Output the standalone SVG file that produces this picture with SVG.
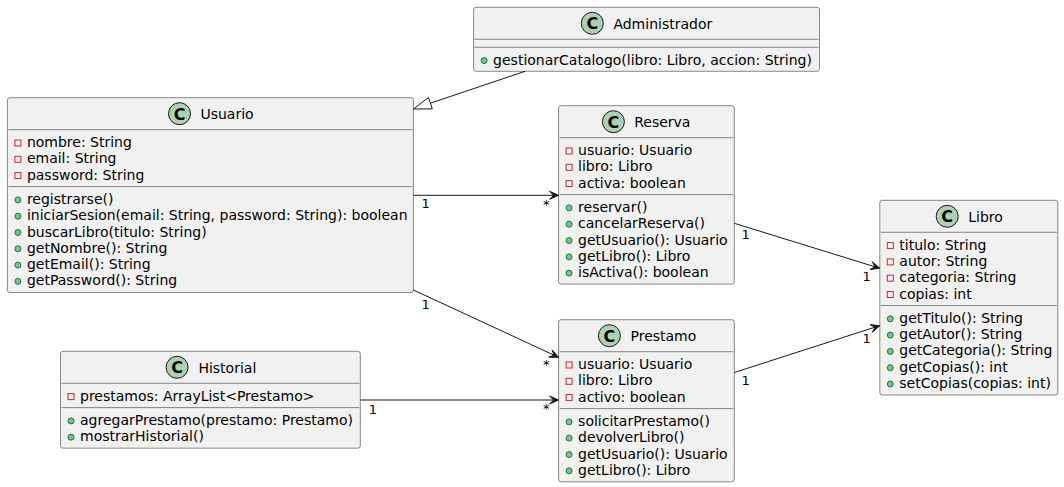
<svg xmlns="http://www.w3.org/2000/svg" width="1064" height="487" viewBox="0 0 1064 487">
<defs>
<style>
.box{fill:#F1F1F1;stroke:#181818;stroke-width:0.5}
.sep{stroke:#181818;stroke-width:0.5}
.ci{fill:#ADD1B2;stroke:#181818;stroke-width:1}
.cl{font-family:"DejaVu Sans",sans-serif;font-size:16px;font-weight:bold;fill:#000;text-anchor:middle}
.nm{font-family:"DejaVu Sans",sans-serif;font-size:14px;fill:#000}
.t{font-family:"DejaVu Sans",sans-serif;font-size:14px;fill:#000}
.pv{fill:none;stroke:#C82930;stroke-width:1}
.pb{fill:#84BE84;stroke:#038048;stroke-width:1}
.ln{stroke:#181818;stroke-width:1;fill:none}
.ah{fill:#181818;stroke:#181818;stroke-width:1}
.lb{font-family:"DejaVu Sans",sans-serif;font-size:13px;fill:#000}
</style>
</defs>
<rect width="1064" height="487" fill="#FFFFFF"/>

<g id="Administrador">
<rect class="box" x="473.6" y="7.3" width="345.9" height="64" rx="2.5" ry="2.5"/>
<circle class="ci" cx="592.3" cy="23.3" r="11"/>
<text class="cl" x="592.3" y="29.1">C</text>
<text class="nm" x="613.4" y="28.6">Administrador</text>
<line class="sep" x1="474.6" y1="39.3" x2="818.5" y2="39.3"/>
<line class="sep" x1="474.6" y1="47.3" x2="818.5" y2="47.3"/>
<circle class="pb" cx="484.1" cy="60.6" r="3"/>
<text class="t" x="493.1" y="64.6">gestionarCatalogo(libro: Libro, accion: String)</text>
</g>

<g id="Usuario">
<rect class="box" x="7.4" y="97.7" width="406" height="194.8" rx="2.5" ry="2.5"/>
<circle class="ci" cx="179.5" cy="113.7" r="11"/>
<text class="cl" x="179.5" y="119.5">C</text>
<text class="nm" x="200.4" y="119">Usuario</text>
<line class="sep" x1="8.4" y1="129.7" x2="412.4" y2="129.7"/>
<rect class="pv" x="14.9" y="140" width="6" height="6"/>
<text class="t" x="26.9" y="147">nombre: String</text>
<rect class="pv" x="14.9" y="156.3" width="6" height="6"/>
<text class="t" x="26.9" y="163.3">email: String</text>
<rect class="pv" x="14.9" y="172.6" width="6" height="6"/>
<text class="t" x="26.9" y="179.6">password: String</text>
<line class="sep" x1="8.4" y1="186.6" x2="412.4" y2="186.6"/>
<circle class="pb" cx="17.9" cy="199.9" r="3"/>
<text class="t" x="26.9" y="203.9">registrarse()</text>
<circle class="pb" cx="17.9" cy="216.2" r="3"/>
<text class="t" x="26.9" y="220.2">iniciarSesion(email: String, password: String): boolean</text>
<circle class="pb" cx="17.9" cy="232.5" r="3"/>
<text class="t" x="26.9" y="236.5">buscarLibro(titulo: String)</text>
<circle class="pb" cx="17.9" cy="248.8" r="3"/>
<text class="t" x="26.9" y="252.8">getNombre(): String</text>
<circle class="pb" cx="17.9" cy="265.1" r="3"/>
<text class="t" x="26.9" y="269.1">getEmail(): String</text>
<circle class="pb" cx="17.9" cy="281.4" r="3"/>
<text class="t" x="26.9" y="285.4">getPassword(): String</text>
</g>

<g id="Reserva">
<rect class="box" x="558.6" y="105.7" width="175.7" height="178.4" rx="2.5" ry="2.5"/>
<circle class="ci" cx="613.4" cy="121.7" r="11"/>
<text class="cl" x="613.4" y="127.5">C</text>
<text class="nm" x="634.2" y="127">Reserva</text>
<line class="sep" x1="559.6" y1="137.7" x2="733.3" y2="137.7"/>
<rect class="pv" x="566.1" y="148" width="6" height="6"/>
<text class="t" x="578.1" y="155">usuario: Usuario</text>
<rect class="pv" x="566.1" y="164.3" width="6" height="6"/>
<text class="t" x="578.1" y="171.3">libro: Libro</text>
<rect class="pv" x="566.1" y="180.6" width="6" height="6"/>
<text class="t" x="578.1" y="187.6">activa: boolean</text>
<line class="sep" x1="559.6" y1="194.6" x2="733.3" y2="194.6"/>
<circle class="pb" cx="569.1" cy="207.9" r="3"/>
<text class="t" x="578.1" y="211.9">reservar()</text>
<circle class="pb" cx="569.1" cy="224.2" r="3"/>
<text class="t" x="578.1" y="228.2">cancelarReserva()</text>
<circle class="pb" cx="569.1" cy="240.5" r="3"/>
<text class="t" x="578.1" y="244.5">getUsuario(): Usuario</text>
<circle class="pb" cx="569.1" cy="256.8" r="3"/>
<text class="t" x="578.1" y="260.8">getLibro(): Libro</text>
<circle class="pb" cx="569.1" cy="273.1" r="3"/>
<text class="t" x="578.1" y="277.1">isActiva(): boolean</text>
</g>

<g id="Libro">
<rect class="box" x="879.8" y="200.3" width="178" height="194.7" rx="2.5" ry="2.5"/>
<circle class="ci" cx="947.2" cy="216.3" r="11"/>
<text class="cl" x="947.2" y="222.1">C</text>
<text class="nm" x="968.3" y="221.6">Libro</text>
<line class="sep" x1="880.8" y1="232.3" x2="1056.8" y2="232.3"/>
<rect class="pv" x="887.3" y="242.6" width="6" height="6"/>
<text class="t" x="899.3" y="249.6">titulo: String</text>
<rect class="pv" x="887.3" y="258.9" width="6" height="6"/>
<text class="t" x="899.3" y="265.9">autor: String</text>
<rect class="pv" x="887.3" y="275.2" width="6" height="6"/>
<text class="t" x="899.3" y="282.2">categoria: String</text>
<rect class="pv" x="887.3" y="291.5" width="6" height="6"/>
<text class="t" x="899.3" y="298.5">copias: int</text>
<line class="sep" x1="880.8" y1="305.5" x2="1056.8" y2="305.5"/>
<circle class="pb" cx="890.3" cy="318.8" r="3"/>
<text class="t" x="899.3" y="322.8">getTitulo(): String</text>
<circle class="pb" cx="890.3" cy="335.1" r="3"/>
<text class="t" x="899.3" y="339.1">getAutor(): String</text>
<circle class="pb" cx="890.3" cy="351.4" r="3"/>
<text class="t" x="899.3" y="355.4">getCategoria(): String</text>
<circle class="pb" cx="890.3" cy="367.7" r="3"/>
<text class="t" x="899.3" y="371.7">getCopias(): int</text>
<circle class="pb" cx="890.3" cy="384" r="3"/>
<text class="t" x="899.3" y="388">setCopias(copias: int)</text>
</g>

<g id="Prestamo">
<rect class="box" x="558.6" y="319.7" width="175.7" height="162.1" rx="2.5" ry="2.5"/>
<circle class="ci" cx="609.4" cy="335.7" r="11"/>
<text class="cl" x="609.4" y="341.5">C</text>
<text class="nm" x="630.5" y="341">Prestamo</text>
<line class="sep" x1="559.6" y1="351.7" x2="733.3" y2="351.7"/>
<rect class="pv" x="566.1" y="362" width="6" height="6"/>
<text class="t" x="578.1" y="369">usuario: Usuario</text>
<rect class="pv" x="566.1" y="378.3" width="6" height="6"/>
<text class="t" x="578.1" y="385.3">libro: Libro</text>
<rect class="pv" x="566.1" y="394.6" width="6" height="6"/>
<text class="t" x="578.1" y="401.6">activo: boolean</text>
<line class="sep" x1="559.6" y1="408.6" x2="733.3" y2="408.6"/>
<circle class="pb" cx="569.1" cy="421.9" r="3"/>
<text class="t" x="578.1" y="425.9">solicitarPrestamo()</text>
<circle class="pb" cx="569.1" cy="438.2" r="3"/>
<text class="t" x="578.1" y="442.2">devolverLibro()</text>
<circle class="pb" cx="569.1" cy="454.5" r="3"/>
<text class="t" x="578.1" y="458.5">getUsuario(): Usuario</text>
<circle class="pb" cx="569.1" cy="470.8" r="3"/>
<text class="t" x="578.1" y="474.8">getLibro(): Libro</text>
</g>

<g id="Historial">
<rect class="box" x="60.5" y="351.3" width="299.8" height="96.9" rx="2.5" ry="2.5"/>
<circle class="ci" cx="177.1" cy="367.3" r="11"/>
<text class="cl" x="177.1" y="373.1">C</text>
<text class="nm" x="198.4" y="372.6">Historial</text>
<line class="sep" x1="61.5" y1="383.3" x2="359.3" y2="383.3"/>
<rect class="pv" x="68" y="393.6" width="6" height="6"/>
<text class="t" x="80" y="400.6">prestamos: ArrayList&lt;Prestamo&gt;</text>
<line class="sep" x1="61.5" y1="407.6" x2="359.3" y2="407.6"/>
<circle class="pb" cx="71" cy="420.9" r="3"/>
<text class="t" x="80" y="424.9">agregarPrestamo(prestamo: Prestamo)</text>
<circle class="pb" cx="71" cy="437.2" r="3"/>
<text class="t" x="80" y="441.2">mostrarHistorial()</text>
</g>

<g id="connectors">
<!-- Administrador extends Usuario -->
<line class="ln" x1="525" y1="71.3" x2="430.4" y2="103.2"/>
<polygon class="ln" points="413.4,109 428.5,97.5 432.3,108.9"/>
<!-- Usuario -> Reserva -->
<line class="ln" x1="413.4" y1="195.3" x2="553.6" y2="195.3"/>
<polygon class="ah" points="558.6,195.3 549.6,191.3 553.6,195.3 549.6,199.3"/>
<text class="lb" x="421.5" y="207.5">1</text>
<text class="lb" x="543" y="208.5">*</text>
<!-- Usuario -> Prestamo -->
<line class="ln" x1="413.4" y1="290" x2="554.1" y2="355.2"/>
<polygon class="ah" points="558.6,357.3 548.75,357.14 554.06,355.2 552.11,349.88"/>
<text class="lb" x="421.5" y="308.5">1</text>
<text class="lb" x="543" y="368.5">*</text>
<!-- Historial -> Prestamo -->
<line class="ln" x1="360.3" y1="400" x2="553.6" y2="400"/>
<polygon class="ah" points="558.6,400 549.6,396 553.6,400 549.6,404"/>
<text class="lb" x="368.8" y="413.5">1</text>
<text class="lb" x="543" y="413">*</text>
<!-- Reserva -> Libro -->
<line class="ln" x1="734.3" y1="223.3" x2="875" y2="266.8"/>
<polygon class="ah" points="879.8,268.3 870.03,269.48 875.02,266.83 872.37,261.84"/>
<text class="lb" x="741.5" y="238.5">1</text>
<text class="lb" x="862.4" y="280.8">1</text>
<!-- Prestamo -> Libro -->
<line class="ln" x1="734.3" y1="372.5" x2="875" y2="327.2"/>
<polygon class="ah" points="879.8,325.7 872.43,332.24 875.04,327.22 870.01,324.62"/>
<text class="lb" x="741.5" y="384.5">1</text>
<text class="lb" x="862.4" y="342.5">1</text>
</g>
</svg>
